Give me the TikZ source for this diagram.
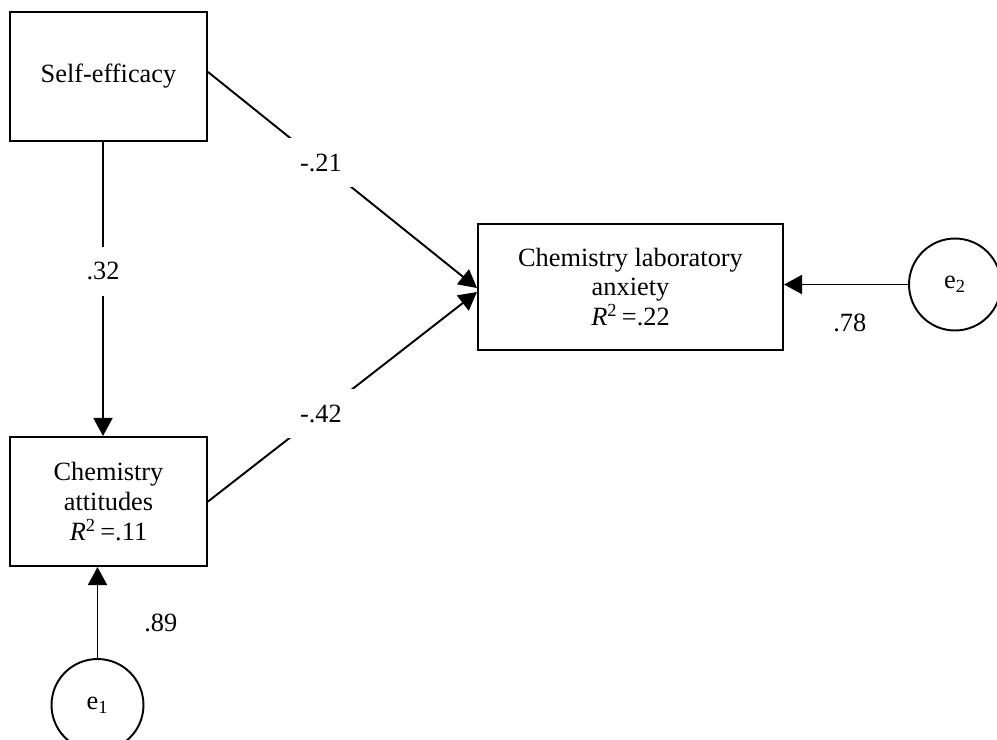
\documentclass[tikz,border=0pt]{standalone}
\usepackage{fontspec}
\setmainfont{Liberation Serif}
\usetikzlibrary{arrows.meta, positioning}

\begin{document}
\begin{tikzpicture}[x=0.02cm, y=-0.02cm, font=\fontsize{15}{17}\selectfont,
        every node/.append style={align=center}]
      \tikzstyle{obs} = [draw, line width=1.2pt, minimum width=3.94cm, minimum height=2.58cm]
      \tikzstyle{err} = [draw, circle, line width=1.1pt, minimum size=1.84cm, inner sep=0pt]
      \tikzstyle{effect} = [line width=1.1pt, -{Triangle[length=0.36cm, width=0.38cm]}]
      \tikzstyle{coef} = [fill=white, inner sep=9pt]
      \clip (0,0) rectangle (997,740);
      \node (se) [obs] at (108.5,76.5) {Self-efficacy};
      \node (att) [obs] at (108.5,501.5) {Chemistry\\attitudes\\\textit{R}\textsuperscript{2}\,=.11};
      \node (anx) [obs, minimum width=6.1cm, minimum height=2.52cm] at (630.5,287)
        {Chemistry laboratory\\anxiety\\\textit{R}\textsuperscript{2}\,=.22};
      \node (e1) [err] at (97.5,705) {e\textsubscript{1}};
      \node (e2) [err] at (955,284.5) {e\textsubscript{2}};
      % direct paths
      \draw[effect] ([xshift=-0.11cm]se.south) -- node[coef, pos=0.44] {.32} ([xshift=-0.11cm]att.north);
      \draw[effect] ([yshift=0.09cm]se.east) -- node[coef, pos=0.42] {-.21} ([yshift=-0.02cm]anx.west);
      \draw[effect] (att.east) -- node[coef, pos=0.42] {-.42} ([yshift=-0.1cm]anx.west);
      % residuals
      \draw[effect] (e2.west) -- (e2.west -| anx.east) node[pos=0.47, below=0.45cm] {.78};
      \draw[effect] (e1.north) -- (e1.north |- att.south) node[pos=0.39, right=0.8cm] {.89};
    \end{tikzpicture}
\end{document}
